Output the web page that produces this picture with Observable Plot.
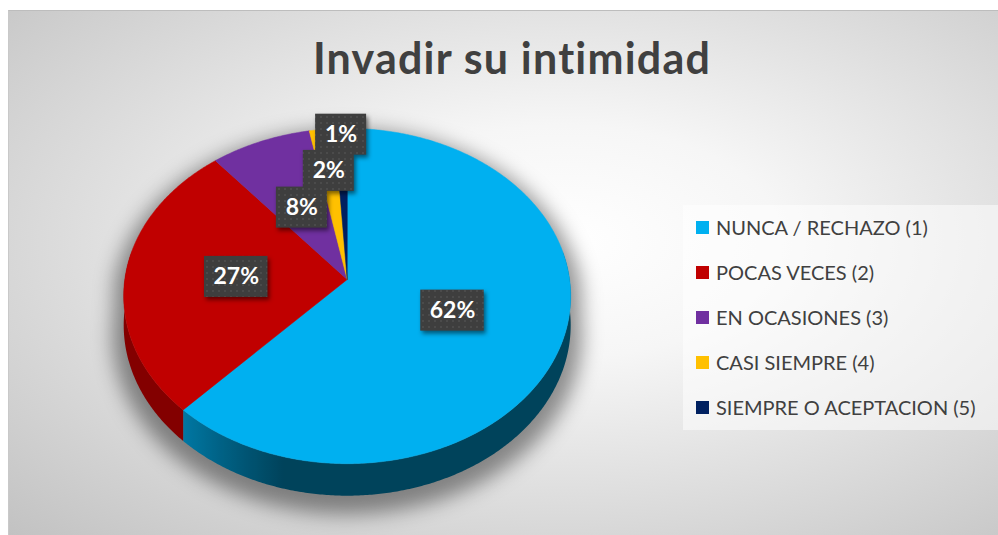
<!DOCTYPE html>
<html><head><meta charset="utf-8">
<script src="https://cdn.jsdelivr.net/npm/d3@7"></script>
<script src="https://cdn.jsdelivr.net/npm/@observablehq/plot@0.6"></script>
<style>
html,body{margin:0;padding:0;background:#fff;}
#page{position:relative;width:998px;height:535px;overflow:hidden;font-family:Lato,"Open Sans",sans-serif;}
#area{position:absolute;left:8px;top:10px;width:990px;height:525px;border-top:1px solid #bdbdbd;border-left:1px solid #c9c9c9;box-sizing:border-box;
 background: radial-gradient(ellipse farthest-corner at 56% 44%, #ffffff 0%, #f6f6f6 28%, #c2c2c2 100%);}
#chart{position:absolute;left:0;top:0;}
#title{position:absolute;left:112px;width:800px;top:36px;text-align:center;font-weight:700;font-size:43px;line-height:43px;letter-spacing:1.2px;color:#404040;white-space:nowrap;}
#legend{position:absolute;left:683px;top:205px;width:315px;height:225px;background:rgba(255,255,255,0.5);}
.item{position:absolute;left:13px;height:20px;display:flex;align-items:center;font-size:20px;color:#404040;white-space:nowrap;}
.sw{width:13px;height:13px;margin-right:7px;flex:none;}
</style></head>
<body>
<div id="page">
 <div id="area"></div>
 <div id="chart"></div>
 <div id="title"></div>
 <div id="legend"></div>
</div>
<script>
const categories = ["NUNCA / RECHAZO (1)", "POCAS VECES (2)", "EN OCASIONES (3)", "CASI SIEMPRE (4)", "SIEMPRE O ACEPTACION (5)"];
const values = [62, 27, 8, 2, 1];
const colors = ["#00B0F0", "#C00000", "#7030A0", "#FFC000", "#002060"];
const chartTitle = "Invadir su intimidad";

// layout
const W = 998, H = 535;
const CX = 346.7, CY = 279, RX = 222.4, RY = 166, P = 0.0987, DEPTH = 32;
const DEPTH_Y = DEPTH / RY * (1 - P);
const total = d3.sum(values);
const DEG = Math.PI / 180;

function proj(theta, f = 1, down = false) {
  const u = f * Math.sin(theta), v = -f * Math.cos(theta);
  const d = 1 - P * v;
  return {X: u / d, Y: v / d + (down ? DEPTH_Y / d : 0), v};
}

let acc = 0;
const slices = values.map((val, i) => {
  const a0 = acc / total * 2 * Math.PI; acc += val;
  const a1 = acc / total * 2 * Math.PI;
  return {i, a0, a1, mid: (a0 + a1) / 2, color: colors[i], label: Math.round(val / total * 100) + "%"};
});

// top faces
const topPts = [];
for (const s of slices) {
  topPts.push({id: s.i, X: 0, Y: 0, color: s.color});
  const n = Math.max(2, Math.ceil((s.a1 - s.a0) / (0.5 * DEG)));
  for (let k = 0; k <= n; k++) {
    const t = s.a0 + (s.a1 - s.a0) * k / n;
    const p = proj(t);
    topPts.push({id: s.i, X: p.X, Y: p.Y, color: s.color});
  }
}

// side walls (front part only), shaded with a horizontal gradient
function shade(deg) {
  if (deg < 195) return 0.38;
  if (deg < 223) return 0.38 + (deg - 195) / 28 * 0.30;
  return 0.68;
}
const FRONT0 = 80 * DEG, FRONT1 = 280 * DEG;
const walls = [];
for (const s of slices) {
  const b0 = Math.max(s.a0, FRONT0), b1 = Math.min(s.a1, FRONT1);
  if (b1 <= b0) continue;
  const n = Math.max(2, Math.ceil((b1 - b0) / (0.5 * DEG)));
  const ts = d3.range(n + 1).map(k => b0 + (b1 - b0) * k / n);
  const pts = [];
  ts.forEach(t => { const p = proj(t); pts.push({X: p.X, Y: p.Y}); });
  ts.slice().reverse().forEach(t => { const p = proj(t, 1, true); pts.push({X: p.X, Y: p.Y}); });
  const xs = ts.map(t => proj(t).X);
  const xmin = d3.min(xs), xmax = d3.max(xs);
  const c = d3.rgb(s.color);
  const stops = ts.map((t, k) => {
    const kf = shade(t / DEG);
    return {o: (xs[k] - xmin) / (xmax - xmin || 1), c: d3.rgb(c.r * kf, c.g * kf, c.b * kf).formatHex()};
  }).sort((a, b) => a.o - b.o);
  walls.push({id: "wall-" + s.i, pts, stops});
}

// shadow silhouette
const shadowPts = [];
for (let d = 0; d < 360; d += 2) {
  const t = d * DEG;
  const p = proj(t, 1.05, -Math.cos(t) > 0);
  shadowPts.push({X: p.X, Y: p.Y});
}

// labels (best-fit: pushed outward radially when overlapping)
const placed = [];
for (const s of slices) {
  s.w = 12.5 * s.label.length + 26;
  let f = 0.5;
  const at = f => { const p = proj(s.mid, f); return {px: CX + RX * p.X, py: CY + RY * p.Y}; };
  let pos = at(f);
  while (placed.some(q => Math.abs(q.px - pos.px) < (q.w + s.w) / 2 && Math.abs(q.py - pos.py) < 36) && f < 1.6) {
    f += 0.005; pos = at(f);
  }
  Object.assign(s, pos);
  placed.push(s);
}
const BH = 41;
const boxes = slices.map(s => ({
  x1: (s.px - s.w / 2 - CX) / RX, x2: (s.px + s.w / 2 - CX) / RX,
  y1: (s.py - BH / 2 - CY) / RY, y2: (s.py + BH / 2 - CY) / RY
}));
const texts = slices.map(s => ({X: (s.px - CX) / RX, Y: (s.py - CY) / RY, label: s.label}));

const svg = Plot.plot({
  width: W, height: H, margin: 0,
  x: {domain: [-1, 1], range: [CX - RX, CX + RX], axis: null},
  y: {domain: [-1, 1], range: [CY - RY, CY + RY], axis: null},
  color: {type: "identity"},
  style: {background: "transparent", overflow: "visible"},
  marks: [
    Plot.line(shadowPts, {x: "X", y: "Y", fill: "#000", fillOpacity: 0.42, stroke: "none", dy: 8, curve: "linear-closed", imageFilter: "blur(10px)"}),
    ...walls.map(w => Plot.line(w.pts, {x: "X", y: "Y", fill: `url(#${w.id})`, stroke: "none", curve: "linear-closed"})),
    Plot.line(topPts, {x: "X", y: "Y", z: "id", fill: "color", stroke: "color", strokeWidth: 0.5, curve: "linear-closed"}),
    Plot.rect(boxes, {x1: "x1", x2: "x2", y1: "y1", y2: "y2", fill: "url(#dots)", imageFilter: "drop-shadow(2px 3px 2px rgba(0,0,0,0.5))"}),
    Plot.text(texts, {x: "X", y: "Y", text: "label", fill: "white", fontSize: 23, fontWeight: "bold", fontFamily: "Lato"})
  ]
});

const sel = d3.select(svg);
const defs = sel.insert("defs", ":first-child");
const pat = defs.append("pattern").attr("id", "dots").attr("width", 6).attr("height", 6).attr("patternUnits", "userSpaceOnUse");
pat.append("rect").attr("width", 6).attr("height", 6).attr("fill", "#3e3e3e");
pat.append("circle").attr("cx", 3).attr("cy", 3).attr("r", 0.8).attr("fill", "#5a5a5a");
for (const w of walls) {
  const lg = defs.append("linearGradient").attr("id", w.id).attr("x1", 0).attr("x2", 1).attr("y1", 0).attr("y2", 0);
  w.stops.forEach(st => lg.append("stop").attr("offset", st.o).attr("stop-color", st.c));
}

document.getElementById("chart").appendChild(svg);
document.getElementById("title").textContent = chartTitle;

const legend = d3.select("#legend");
categories.forEach((c, i) => {
  const it = legend.append("div").attr("class", "item").style("top", (12 + i * 45) + "px");
  it.append("div").attr("class", "sw").style("background", colors[i]);
  it.append("span").text(c);
});
</script>
</body></html>
